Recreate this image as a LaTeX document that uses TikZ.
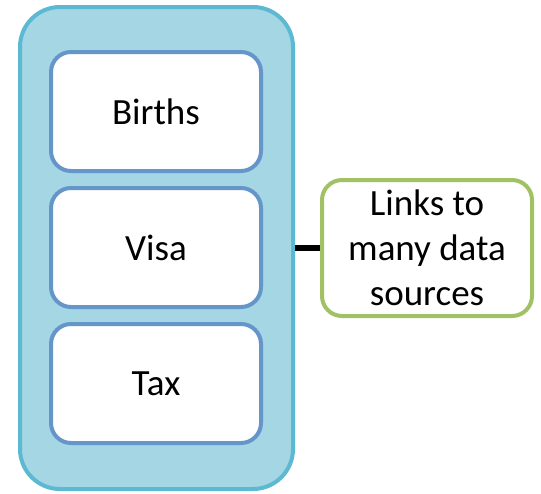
\documentclass[tikz,border=0pt]{standalone}
\usepackage{fontspec}
\setmainfont{Carlito}
\usepackage{tikz}
\definecolor{panelfill}{RGB}{165,214,227}
\definecolor{panelline}{RGB}{91,185,210}
\definecolor{recordline}{RGB}{101,150,201}
\definecolor{linkline}{RGB}{160,194,100}
\tikzset{
  panel/.style={draw=panelline, fill=panelfill, line width=4pt, rounded corners=40pt,
                minimum width=273pt, minimum height=482pt},
  record/.style={draw=recordline, fill=white, line width=4pt, rounded corners=20pt,
                 minimum width=210pt, minimum height=119pt, font=\fontsize{37}{44}\selectfont},
  linkbox/.style={draw=linkline, fill=white, line width=4pt, rounded corners=20pt,
                  minimum width=210pt, minimum height=136pt, align=center,
                  font=\fontsize{37}{45}\selectfont}
}

\begin{document}
\begin{tikzpicture}[x=1pt, y=-1pt]
        \useasboundingbox (0,0) rectangle (541,493);
        \node[panel] (registry) at (156.5,248) {};
        \node[record] (births) at (156,111.5) {\raisebox{-3pt}{Births}};
        \node[record] (visa) at (156,247.5) {\raisebox{-3pt}{Visa}};
        \node[record] (tax) at (156,383.5) {\raisebox{-3pt}{Tax}};
        \node[linkbox] (links) at (427,248) {Links to\\many data\\sources};
        \draw[line width=6pt] (registry.east) -- (links.west);
    \end{tikzpicture}
\end{document}
